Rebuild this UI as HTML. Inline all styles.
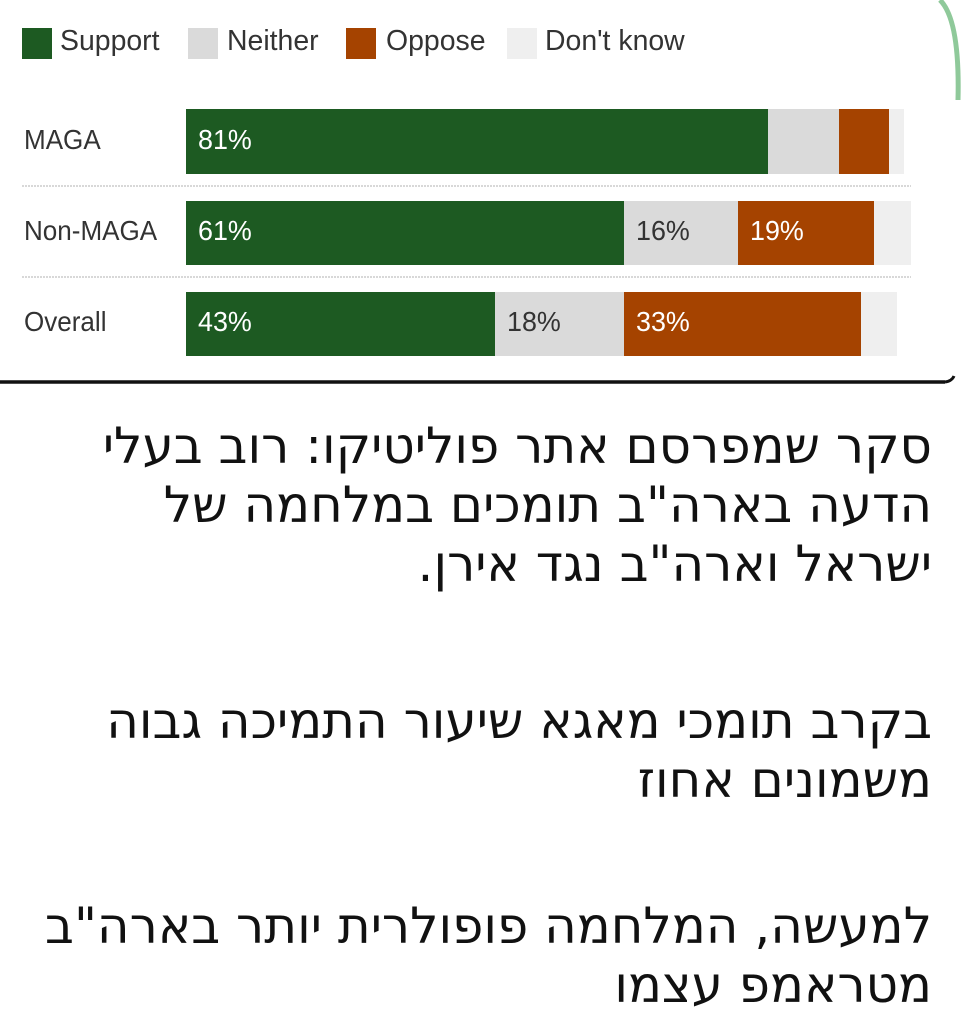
<!DOCTYPE html>
<html><head><meta charset="utf-8"><style>
body{margin:0;width:963px;height:1027px;background:#fff;position:relative;overflow:hidden;font-family:"Liberation Sans",sans-serif}
.a{position:absolute}
.lg{font-size:29px;color:#333;top:25px;transform:scaleX(0.98);transform-origin:left top;white-space:nowrap}
.sq{position:absolute;top:28px;width:30px;height:31px}
.lab{font-size:28px;color:#333;transform:scaleX(0.93);transform-origin:left center;white-space:nowrap}
.pc{font-size:28px;color:#fff;transform:scaleX(0.96);transform-origin:left center}
.pd{font-size:28px;color:#333;transform:scaleX(0.96);transform-origin:left center}
.he{position:absolute;right:31px;font-family:"DejaVu Sans","Liberation Sans",sans-serif;font-size:50px;color:#111;direction:rtl;white-space:nowrap;line-height:1}
</style></head><body>
<svg class="a" style="left:0;top:0" width="963" height="400">
<path d="M940 0 Q960 20 958 100" stroke="#8fc99a" stroke-width="5" fill="none"/>
<line x1="0" y1="382" x2="945" y2="382" stroke="#111" stroke-width="3.5"/>
<path d="M945 382 Q952 381 954 376" stroke="#111" stroke-width="3" fill="none"/>
<line x1="22" y1="186" x2="911" y2="186" stroke="#ccc" stroke-width="1.5" stroke-dasharray="2,1"/>
<line x1="22" y1="277" x2="911" y2="277" stroke="#ccc" stroke-width="1.5" stroke-dasharray="2,1"/>
<rect x="186" y="109" width="582" height="65" fill="#1d5a22"/>
<rect x="768" y="109" width="71" height="65" fill="#dadada"/>
<rect x="839" y="109" width="50" height="65" fill="#a54300"/>
<rect x="889" y="109" width="15" height="65" fill="#efefef"/>
<rect x="186" y="201" width="438" height="64" fill="#1d5a22"/>
<rect x="624" y="201" width="114" height="64" fill="#dadada"/>
<rect x="738" y="201" width="136" height="64" fill="#a54300"/>
<rect x="874" y="201" width="37" height="64" fill="#efefef"/>
<rect x="186" y="292" width="309" height="64" fill="#1d5a22"/>
<rect x="495" y="292" width="129" height="64" fill="#dadada"/>
<rect x="624" y="292" width="237" height="64" fill="#a54300"/>
<rect x="861" y="292" width="36" height="64" fill="#efefef"/>
</svg>
<div class="sq" style="left:22px;background:#1d5a22"></div><div class="a lg" style="left:60px">Support</div>
<div class="sq" style="left:188px;background:#dadada"></div><div class="a lg" style="left:227px">Neither</div>
<div class="sq" style="left:346px;background:#a54300"></div><div class="a lg" style="left:386px">Oppose</div>
<div class="sq" style="left:507px;background:#efefef"></div><div class="a lg" style="left:545px">Don't know</div>
<div class="a lab" style="left:24px;top:124px">MAGA</div>
<div class="a lab" style="left:24px;top:215px">Non-MAGA</div>
<div class="a lab" style="left:24px;top:306px">Overall</div>
<div class="a pc" style="left:198px;top:124px">81%</div>
<div class="a pc" style="left:198px;top:215px">61%</div>
<div class="a pd" style="left:636px;top:215px">16%</div>
<div class="a pc" style="left:750px;top:215px">19%</div>
<div class="a pc" style="left:198px;top:306px">43%</div>
<div class="a pd" style="left:507px;top:306px">18%</div>
<div class="a pc" style="left:636px;top:306px">33%</div>
<div class="he" style="top:421px">סקר שמפרסם אתר פוליטיקו: רוב בעלי</div>
<div class="he" style="top:480px">הדעה בארה"ב תומכים במלחמה של</div>
<div class="he" style="top:539px">ישראל וארה"ב נגד אירן.</div>
<div class="he" style="top:696px">בקרב תומכי מאגא שיעור התמיכה גבוה</div>
<div class="he" style="top:755px">משמונים אחוז</div>
<div class="he" style="top:901px">למעשה, המלחמה פופולרית יותר בארה"ב</div>
<div class="he" style="top:960px">מטראמפ עצמו</div>
</body></html>
